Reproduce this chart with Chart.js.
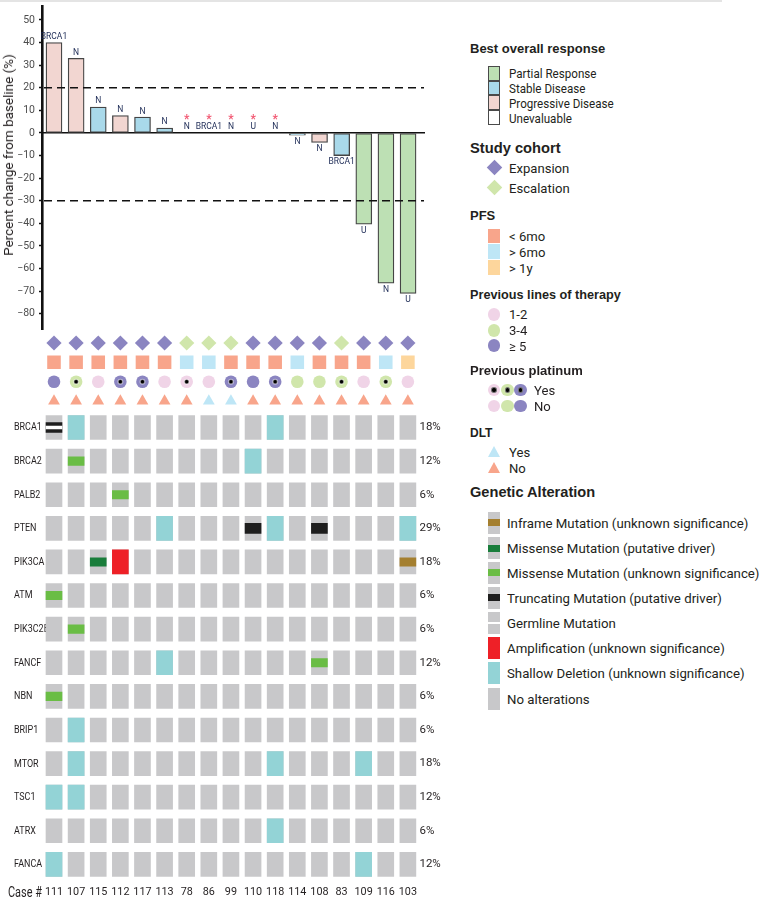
<!DOCTYPE html>
<html><head><meta charset="utf-8">
<script src="https://cdn.jsdelivr.net/npm/chart.js@4.4.1/dist/chart.umd.min.js"></script>
<style>
html,body{margin:0;padding:0;background:#fff;}
#wrap{position:relative;width:761px;height:900px;overflow:hidden;font-family:Roboto,"Liberation Sans",sans-serif;color:#231f20;}
canvas{position:absolute;}
.t{position:absolute;white-space:nowrap;line-height:16px;font-size:13.5px;transform-origin:0 50%;}
.h{position:absolute;white-space:nowrap;font-family:"Liberation Sans",Arial,sans-serif;font-weight:bold;font-size:13px;line-height:16px;}
.m{position:absolute;box-sizing:border-box;}
</style></head><body><div id="wrap">
<div style="position:absolute;left:0;top:0;width:722px;height:2px;background:#e4e4e4"></div>
<canvas id="cA" width="430" height="335" style="left:0;top:0"></canvas>
<canvas id="cB" width="450" height="82" style="left:0;top:330px"></canvas>
<canvas id="cC" width="450" height="492" style="left:0;top:408px"></canvas>
<div class="t" style="left:7.5px;top:154.5px;font-size:13.5px;transform-origin:50% 50%;transform:translate(-50%,-50%) rotate(-90deg);">Percent change from baseline (%)</div>
<div class="t" style="left:8px;top:884px;font-size:14px;transform:scaleX(0.78);">Case #</div>
</div>
<script>
// ---------- data ----------
const cases = ["111","107","115","112","117","113","78","86","99","110","118","114","108","83","109","116","103"];
const pctChange = [40, 33, 11.5, 7.7, 7, 2.2, null, null, null, null, null, -1, -4.2, -10, -40.4, -66.5, -71];
const response = ["PD","PD","SD","PD","SD","SD","UE","UE","UE","UE","UE","SD","PD","SD","PR","PR","PR"];
const barLabels = ["BRCA1","N","N","N","N","N","N","BRCA1","N","U","N","N","N","BRCA1","U","N","U"];
const refLines = [20, -30];
const yTicks = [50, 40, 30, 20, 10, 0, -10, -20, -30, -40, -50, -60, -70, -80];

const annotationRows = ["Study cohort","PFS","Previous lines of therapy","DLT"];
const cohort = ["Expansion","Expansion","Expansion","Expansion","Expansion","Expansion","Escalation","Escalation","Escalation","Expansion","Expansion","Expansion","Expansion","Escalation","Expansion","Expansion","Expansion"];
const pfs = ["< 6mo","< 6mo","< 6mo","< 6mo","< 6mo","< 6mo","> 6mo","> 6mo","< 6mo","< 6mo","< 6mo","> 6mo","< 6mo","< 6mo","< 6mo","> 6mo","> 1y"];
const linesTherapy = ["≥ 5","3-4","1-2","≥ 5","≥ 5","1-2","1-2","1-2","≥ 5","≥ 5","≥ 5","3-4","3-4","3-4","1-2","3-4","1-2"];
const platinum = ["No","Yes","No","Yes","Yes","No","Yes","No","Yes","No","Yes","No","No","Yes","No","Yes","No"];
const dlt = ["No","No","No","No","No","No","No","Yes","Yes","No","No","No","No","No","No","No","No"];

const genes = ["BRCA1","BRCA2","PALB2","PTEN","PIK3CA","ATM","PIK3C2B","FANCF","NBN","BRIP1","MTOR","TSC1","ATRX","FANCA"];
const genePercent = ["18%","12%","6%","29%","18%","6%","6%","12%","6%","6%","18%","12%","6%","12%"];
const shallowDeletion = [["BRCA1","107"],["BRCA1","118"],["BRCA2","110"],["PTEN","113"],["PTEN","118"],["PTEN","103"],["FANCF","113"],["BRIP1","107"],["MTOR","107"],["MTOR","118"],["MTOR","109"],["TSC1","111"],["TSC1","107"],["ATRX","118"],["FANCA","111"],["FANCA","109"]];
const amplification = [["PIK3CA","112"]];
const missenseDriver = [["PIK3CA","115"]];
const missenseUnknown = [["BRCA2","107"],["PALB2","112"],["ATM","111"],["PIK3C2B","107"],["FANCF","108"],["NBN","111"]];
const truncatingDriver = [["BRCA1","111"],["PTEN","110"],["PTEN","108"]];
const inframeUnknown = [["PIK3CA","103"]];
const germline = [["BRCA1","111"]];

// ---------- styles ----------
const C = {
  PR:"#bde0b4", SD:"#a9d9ea", PD:"#f2d6d1", UE:"#ffffff",
  Expansion:"#8b85c1", Escalation:"#d0e6ab",
  "< 6mo":"#f8a58b", "> 6mo":"#bee6f6", "> 1y":"#fdd69c",
  "1-2":"#f0d4e7", "3-4":"#d0e6ab", "≥ 5":"#8b85c1",
  Yes:"#bee6f6", No:"#f8a58b",
  gray:"#c8c8ca", shallow:"#93d3d6", amp:"#ee2027", misD:"#197d3b", misU:"#6abd45", trunc:"#1e1e1e", inframe:"#a47f2f"
};
const txt = "#231f20";
const noPad = s => { s.paddingTop = 0; s.paddingBottom = 0; };

// ---------- chart A: waterfall ----------
const refLinePlugin = {
  id:"refLines",
  afterDatasetsDraw(chart){
    const {ctx, chartArea:a, scales:{y}} = chart;
    ctx.save();
    ctx.strokeStyle="#111"; ctx.lineWidth=1.6; ctx.setLineDash([8,5]);
    refLines.forEach(v=>{
      const py = y.getPixelForValue(v);
      ctx.beginPath(); ctx.moveTo(a.left+2, py); ctx.lineTo(a.right, py); ctx.stroke();
    });
    ctx.restore();
  }
};
const barLabelPlugin = {
  id:"barLabels",
  afterDatasetsDraw(chart){
    const {ctx, scales:{x,y}} = chart;
    ctx.save();
    ctx.textAlign="center";
    const zero = y.getPixelForValue(0);
    cases.forEach((c,i)=>{
      const px = x.getPixelForValue(i);
      const v = pctChange[i];
      ctx.font="8.5px Roboto"; ctx.fillStyle="#1c2a55";
      if (v === null) {
        ctx.textBaseline="alphabetic";
        ctx.fillText(barLabels[i], px, zero-3.5);
        ctx.fillStyle="#f25a74"; ctx.font="bold 12px Roboto";
        ctx.fillText("*", px, zero-9.5);
      } else if (v > 0) {
        ctx.textBaseline="alphabetic";
        ctx.fillText(barLabels[i], px, y.getPixelForValue(v)-3.5);
      } else {
        ctx.textBaseline="top";
        ctx.fillText(barLabels[i], px, y.getPixelForValue(v)+2.5);
      }
    });
    ctx.restore();
  }
};
new Chart(document.getElementById("cA"), {
  type:"bar",
  data:{datasets:[{
    data: cases.map((c,i)=>({x:i, y:pctChange[i]})),
    backgroundColor: response.map(r=>C[r]),
    borderColor:"#454545", borderWidth:1.3, borderSkipped:false, barThickness:16
  }]},
  options:{
    responsive:false, animation:false, events:[],
    layout:{autoPadding:false, padding:{top:6.4, right:6, bottom:5.4, left:0}},
    plugins:{legend:{display:false}, tooltip:{enabled:false}},
    scales:{
      x:{type:"linear", min:-0.542, max:16.72, offset:false, position:{y:0},
         grid:{display:false, drawTicks:false}, ticks:{display:false},
         border:{display:true, color:"#111", width:1.6}},
      y:{min:-87, max:56,
         afterBuildTicks:s=>{ s.ticks = yTicks.map(v=>({value:v})); },
         afterFit:s=>{ s.width = 42; noPad(s); },
         ticks:{font:{family:"Roboto", size:10.5}, color:"#4d4d4d", padding:4,
                callback:v=>String(v).replace("-","\u2212")},
         grid:{drawOnChartArea:false, drawTicks:true, tickLength:3, tickColor:"#111", tickWidth:1.5},
         border:{color:"#111", width:2.6}}
    }
  },
  plugins:[refLinePlugin, barLabelPlugin]
});

// ---------- chart B: annotation tracks ----------
new Chart(document.getElementById("cB"), {
  type:"scatter",
  data:{datasets:[
    {data:cases.map((c,i)=>platinum[i]==="Yes" ? {x:c, y:annotationRows[2]} : null).filter(Boolean),
     pointStyle:"circle", radius:2.3, backgroundColor:"#000", borderColor:"rgba(255,255,255,0.45)", borderWidth:1.4},
    {data:cases.map(c=>({x:c, y:annotationRows[0]})), pointStyle:"rectRot", radius:7.6,
     backgroundColor:cohort.map(v=>C[v]), borderWidth:0},
    {data:cases.map(c=>({x:c, y:annotationRows[1]})), pointStyle:"rect", radius:9.6,
     backgroundColor:pfs.map(v=>C[v]), borderWidth:0},
    {data:cases.map(c=>({x:c, y:annotationRows[2]})), pointStyle:"circle", radius:6.3,
     backgroundColor:linesTherapy.map(v=>C[v]), borderWidth:0},
    {data:cases.map(c=>({x:c, y:annotationRows[3]})), pointStyle:"triangle", radius:6.8,
     backgroundColor:dlt.map(v=>C[v]), borderWidth:0}
  ]},
  options:{
    responsive:false, animation:false, events:[],
    layout:{autoPadding:false, padding:{left:42.94, right:31.06, top:3.3, bottom:1.3}},
    plugins:{legend:{display:false}, tooltip:{enabled:false}},
    scales:{
      x:{type:"category", labels:cases, offset:true, display:false},
      y:{type:"category", labels:annotationRows, offset:true, display:false}
    }
  }
});

// ---------- chart C: oncoprint ----------
const gi = g => genes.indexOf(g);
function cells(list, half){ return list.map(([g,c])=>({x:c, y:[gi(g)-half, gi(g)+half]})); }
const full = 0.357, mut = 0.125;
const bgCells = [];
genes.forEach(g=>cases.forEach(c=>bgCells.push([g,c])));
const ds = (data, color) => ({data, backgroundColor:color, borderWidth:0, barThickness:16, grouped:false});
const yCommon = {type:"linear", reverse:true, min:-0.5, max:13.5,
  afterBuildTicks:s=>{ s.ticks = genes.map((g,i)=>({value:i})); },
  grid:{display:false, drawTicks:false}, border:{display:false}};
// gene names: left-aligned, condensed, drawn beneath the cells at each row of the y scale
const geneLabelPlugin = {
  id:"geneLabels",
  beforeDatasetsDraw(chart){
    const {ctx, scales:{y}} = chart;
    ctx.save();
    ctx.font = "11.8px Roboto"; ctx.fillStyle = txt; ctx.textBaseline = "middle"; ctx.textAlign = "left";
    genes.forEach((g,i)=>{
      ctx.save();
      ctx.translate(14, y.getPixelForValue(i));
      ctx.scale(0.76, 1);
      ctx.fillText(g, 0, 0);
      ctx.restore();
    });
    ctx.restore();
  }
};
new Chart(document.getElementById("cC"), {
  type:"bar",
  data:{labels:cases, datasets:[
    // first dataset is drawn on top
    ds(cells(germline, 0.045), "#ffffff"),
    ds(cells(inframeUnknown, mut), C.inframe),
    ds(cells(truncatingDriver, 0.15), C.trunc),
    ds(cells(missenseUnknown, mut), C.misU),
    ds(cells(missenseDriver, mut), C.misD),
    ds(cells(amplification, full), C.amp),
    ds(cells(shallowDeletion, full), C.shallow),
    ds(cells(bgCells, full), C.gray)
  ]},
  options:{
    responsive:false, animation:false, events:[],
    layout:{autoPadding:false, padding:{left:14, right:0, top:2.7, bottom:0}},
    plugins:{legend:{display:false}, tooltip:{enabled:false}},
    scales:{
      x:{type:"category", offset:true, grid:{display:false, drawTicks:false}, border:{display:false},
         afterFit:s=>{ s.height = 18.8; s.paddingLeft = 0; s.paddingRight = 0; },
         ticks:{autoSkip:false, maxRotation:0, padding:5, font:{family:"Roboto", size:10.8}, color:txt}},
      y:Object.assign({}, yCommon, {position:"left",
         afterFit:s=>{ s.width = 28.94; noPad(s); },
         ticks:{display:false}}),
      yPct:Object.assign({}, yCommon, {axis:"y", position:"right",
         afterFit:s=>{ s.width = 31.06; noPad(s); },
         ticks:{padding:0.5, font:{family:"Roboto", size:11.5}, color:txt, callback:v=>genePercent[v]}})
    }
  },
  plugins:[geneLabelPlugin]
});

// ---------- legend (HTML) ----------
const W = document.getElementById("wrap");
function el(cls, style, text){ const d=document.createElement("div"); d.className=cls; Object.assign(d.style, style); if(text!==undefined) d.textContent=text; W.appendChild(d); return d; }
const px = v => v+"px";
function title(t, cy, size){ el("h", {left:px(470), top:px(cy-8), fontSize:px(size||13)}, t); }
function label(t, x, cy, sx){ el("t", {left:px(x), top:px(cy-8), transform:"scaleX("+(sx||0.97)+")"}, t); }
function box(cx, cy, w, h, color, extra){ return el("m", Object.assign({left:px(cx-w/2), top:px(cy-h/2), width:px(w), height:px(h), background:color}, extra||{})); }
function diamond(cx, cy, color){ box(cx, cy, 11, 11, color, {transform:"rotate(45deg)"}); }
function circle(cx, cy, color, dot){
  box(cx, cy, 12.5, 12.5, color, {borderRadius:"50%"});
  if (dot) box(cx, cy, 5.5, 5.5, "#000", {borderRadius:"50%", border:"1.3px solid rgba(255,255,255,0.45)"});
}
function triangle(cx, cy, color){
  el("m", {left:px(cx-6.5), top:px(cy-6), width:0, height:0, borderLeft:"6.5px solid transparent", borderRight:"6.5px solid transparent", borderBottom:"11px solid "+color});
}

title("Best overall response", 49);
[["Partial Response","PR",73.3],["Stable Disease","SD",88],["Progressive Disease","PD",102.7],["Unevaluable","UE",117.5]].forEach(([t,k,y])=>{
  box(494, y, 12.5, 14.7, C[k], {border:"1.5px solid #4a4a4a"}); label(t, 509, y, 0.86);
});
title("Study cohort", 147.5, 14.7);
[["Expansion",167.7],["Escalation",187.7]].forEach(([t,y])=>{ diamond(494, y, C[t]); label(t, 509, y); });
title("PFS", 215.7);
[["< 6mo",236],["> 6mo",251.5],["> 1y",267.5]].forEach(([t,y])=>{ box(494, y, 12, 14.5, C[t]); label(t, 509, y); });
title("Previous lines of therapy", 295, 12.7);
[["1-2",314.3],["3-4",330.3],["≥ 5",345.7]].forEach(([t,y])=>{ circle(494, y, C[t]); label(t, 509, y); });
title("Previous platinum", 370.7);
[["Yes",390,true],["No",406,false]].forEach(([t,y,d])=>{
  circle(494, y, C["1-2"], d); circle(507.3, y, C["3-4"], d); circle(520.5, y, C["≥ 5"], d); label(t, 534, y);
});
title("DLT", 433.3, 12);
[["Yes",452.3],["No",468.3]].forEach(([t,y])=>{ triangle(494, y, C[t]); label(t, 509, y); });
title("Genetic Alteration", 492.3, 14.6);
[["Inframe Mutation (unknown significance)",522.7,C.inframe,7],
 ["Missense Mutation (putative driver)",548,C.misD,7],
 ["Missense Mutation (unknown significance)",572.7,C.misU,7],
 ["Truncating Mutation (putative driver)",597.7,C.trunc,7],
 ["Germline Mutation",622.7,"#ffffff",2],
 ["Amplification (unknown significance)",648.3,C.amp,22],
 ["Shallow Deletion (unknown significance)",673.3,C.shallow,22],
 ["No alterations",699,C.gray,0]].forEach(([t,y,col,h])=>{
  box(494, y, 12, 22, C.gray);
  if (h>0) box(494, y, 12, h, col);
  label(t, 507, y, 0.98);
});
</script>
</body></html>
